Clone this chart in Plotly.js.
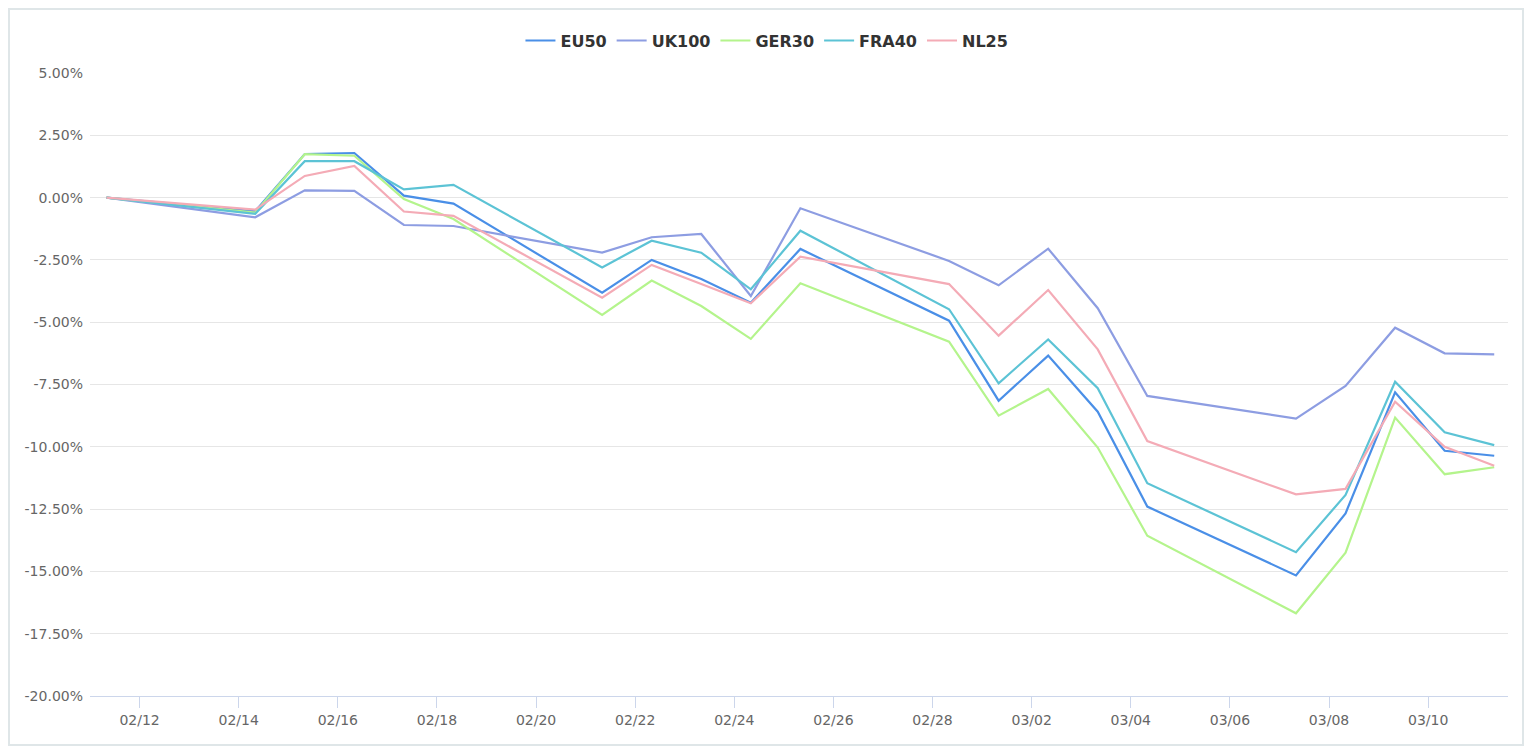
<!DOCTYPE html>
<html>
<head>
<meta charset="utf-8">
<script src="https://cdn.plot.ly/plotly-3.0.1.min.js"></script>
<style>
  html, body { margin: 0; padding: 0; background: #ffffff; }
  #chart { width: 1534px; height: 756px; }
  #frame { position: absolute; left: 8px; top: 8px; width: 1512px; height: 734px;
           border: 2px solid #dfe6e8; pointer-events: none; }
</style>
</head>
<body>
<div id="chart"></div>
<div id="frame"></div>
<script>
const dates = ['2022-02-11','2022-02-14','2022-02-15','2022-02-16','2022-02-17','2022-02-18',
  '2022-02-21','2022-02-22','2022-02-23','2022-02-24','2022-02-25','2022-02-28',
  '2022-03-01','2022-03-02','2022-03-03','2022-03-04','2022-03-07','2022-03-08',
  '2022-03-09','2022-03-10','2022-03-11'];

const EU50  = [0, -0.55, 1.75, 1.79, 0.08, -0.24, -3.82, -2.50, -3.27, -4.22, -2.06, -4.94, -8.15, -6.34, -8.59, -12.40, -15.16, -12.67, -7.81, -10.16, -10.36];
const UK100 = [0, -0.79, 0.29, 0.27, -1.10, -1.14, -2.21, -1.59, -1.46, -3.95, -0.43, -2.54, -3.52, -2.05, -4.44, -7.96, -8.87, -7.56, -5.22, -6.25, -6.29];
const GER30 = [0, -0.60, 1.74, 1.68, -0.06, -0.86, -4.71, -3.33, -4.35, -5.67, -3.44, -5.78, -8.75, -7.68, -10.03, -13.57, -16.68, -14.25, -8.83, -11.10, -10.82];
const FRA40 = [0, -0.65, 1.46, 1.46, 0.33, 0.51, -2.80, -1.73, -2.21, -3.68, -1.33, -4.48, -7.45, -5.69, -7.65, -11.46, -14.23, -11.93, -7.39, -9.42, -9.93];
const NL25  = [0, -0.48, 0.87, 1.27, -0.56, -0.73, -4.02, -2.70, -3.47, -4.24, -2.37, -3.47, -5.54, -3.71, -6.09, -9.77, -11.91, -11.69, -8.19, -10.00, -10.76];

const seriesNames = ['EU50', 'UK100', 'GER30', 'FRA40', 'NL25'];
const seriesValues = [EU50, UK100, GER30, FRA40, NL25];
const colors = ['#4a8fe7', '#8d9de2', '#b4f48c', '#5cc3d5', '#f4abb6'];

const yTickVals = [5, 2.5, 0, -2.5, -5, -7.5, -10, -12.5, -15, -17.5, -20];
const yTickText = ['5.00%', '2.50%', '0.00%', '-2.50%', '-5.00%', '-7.50%', '-10.00%', '-12.50%', '-15.00%', '-17.50%', '-20.00%'];

const xs = dates.map(d => d + ' 08:00');

const traces = seriesNames.map((name, i) => ({
  type: 'scatter',
  mode: 'lines',
  name: name,
  x: xs,
  y: seriesValues[i],
  line: { color: colors[i], width: 2.2 },
  hovertemplate: '%{y:.2f}%<extra>' + name + '</extra>'
}));

const layout = {
  width: 1534,
  height: 756,
  margin: { l: 90, r: 26, t: 73, b: 60 },
  paper_bgcolor: '#ffffff',
  plot_bgcolor: '#ffffff',
  font: { family: 'DejaVu Sans, sans-serif', size: 14, color: '#666666' },
  showlegend: true,
  legend: {
    orientation: 'h',
    x: 0.4774, xanchor: 'center',
    y: 1.052, yanchor: 'middle',
    font: { family: 'DejaVu Sans, sans-serif', size: 16, color: '#333333', weight: 'bold' },
    itemwidth: 30,
    tracegroupgap: 0
  },
  xaxis: {
    type: 'date',
    range: ['2022-02-11 00:00', '2022-03-11 14:40'],
    tick0: '2022-02-12',
    dtick: 2 * 86400000,
    tickformat: '%m/%d',
    tickangle: 0,
    showgrid: false,
    showline: true,
    linecolor: '#ccd6eb',
    linewidth: 1,
    ticks: 'outside',
    ticklen: 11,
    tickcolor: '#ccd6eb',
    tickwidth: 1,
    tickfont: { size: 14, color: '#666666' },
    zeroline: false,
    fixedrange: true
  },
  yaxis: {
    range: [-20, 5],
    tickvals: yTickVals,
    ticktext: yTickText,
    showgrid: true,
    gridcolor: '#e6e6e6',
    gridwidth: 1,
    zeroline: false,
    showline: false,
    ticks: '',
    ticklabelstandoff: 6,
    tickfont: { size: 14, color: '#666666' },
    fixedrange: true
  }
};

Plotly.newPlot('chart', traces, layout, { displayModeBar: false });
</script>
</body>
</html>
